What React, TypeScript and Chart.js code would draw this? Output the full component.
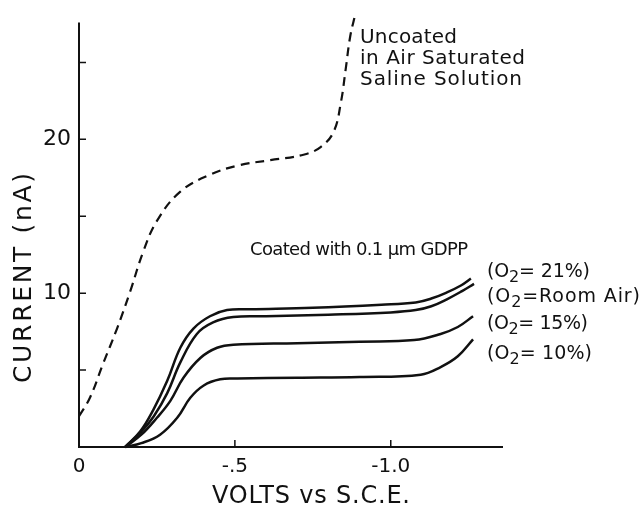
import React, { useEffect, useRef } from "react";
import { Chart, registerables } from "chart.js";

Chart.register(...registerables);

// ---- Data (volts vs S.C.E., current in nA) ----
const uncoatedV = [0, -0.035, -0.077, -0.122, -0.164, -0.206, -0.25, -0.325, -0.42, -0.51, -0.614, -0.72, -0.775, -0.817, -0.84, -0.855, -0.87, -0.887];
const uncoatedI = [2.0, 3.2, 5.4, 7.7, 10.1, 12.7, 14.7, 16.6, 17.7, 18.3, 18.65, 19.0, 19.5, 20.5, 22.4, 24.5, 26.7, 28.2];

const o21V = [-0.148, -0.196, -0.238, -0.283, -0.325, -0.367, -0.42, -0.475, -0.55, -0.75, -0.97, -1.08, -1.13, -1.18, -1.225, -1.257];
const o21I = [0, 1.0, 2.4, 4.3, 6.45, 7.7, 8.5, 8.9, 8.95, 9.05, 9.25, 9.4, 9.65, 10.05, 10.5, 10.95];

const roomV = [-0.148, -0.2, -0.24, -0.283, -0.325, -0.378, -0.43, -0.495, -0.6, -0.8, -1.0, -1.08, -1.13, -1.18, -1.23, -1.267];
const roomI = [0, 1.0, 2.0, 3.5, 5.5, 7.35, 8.1, 8.45, 8.5, 8.6, 8.75, 8.9, 9.15, 9.6, 10.15, 10.6];

const o15V = [-0.148, -0.2, -0.25, -0.293, -0.335, -0.39, -0.443, -0.495, -0.7, -0.9, -1.075, -1.16, -1.215, -1.264];
const o15I = [0, 0.8, 1.9, 3.0, 4.5, 5.8, 6.45, 6.65, 6.75, 6.85, 6.95, 7.35, 7.8, 8.5];

const o10V = [-0.148, -0.2, -0.26, -0.315, -0.357, -0.4, -0.453, -0.508, -0.7, -0.9, -1.096, -1.16, -1.215, -1.264];
const o10I = [0, 0.25, 0.8, 1.9, 3.2, 4.0, 4.4, 4.45, 4.5, 4.55, 4.7, 5.2, 5.9, 7.0];

const xTickValues = [0, -0.5, -1.0];
const xTickLabels = ["0", "-.5", "-1.0"];
const yTickValues = [5, 10, 15, 20, 25];
const yTickLabels = ["", "10", "", "20", ""];

const xMin = -1.36;
const xMax = 0;
const yMin = 0;
const yMax = 28.2;
const yAxisTop = 27.6;

const yTitle = "CURRENT (nA)";
const xTitle = "VOLTS vs S.C.E.";
const uncoatedLabel = ["Uncoated", "in Air Saturated", "Saline Solution"];
const coatedLabel = "Coated with 0.1 \u03BCm GDPP";
const o2Labels = ["= 21%)", "=Room Air)", "= 15%)", "= 10%)"];

const INK = "#111";
const FONT = '"DejaVu Sans", sans-serif';

const toPts = (v: number[], i: number[]) => v.map((x, k) => ({ x, y: i[k] }));

type Seg = { t: string; sub?: boolean };

function drawFit(
  ctx: CanvasRenderingContext2D,
  segs: Seg[],
  x: number,
  y: number,
  target: number,
  size: number
) {
  const subSize = Math.round(size * 0.85);
  const anyCtx = ctx as any;
  anyCtx.letterSpacing = "0px";
  let natural = 0;
  let chars = 0;
  segs.forEach((s) => {
    ctx.font = `${s.sub ? subSize : size}px ${FONT}`;
    natural += ctx.measureText(s.t).width;
    chars += s.t.length;
  });
  const ls = chars > 1 ? (target - natural) / (chars - 1) : 0;
  anyCtx.letterSpacing = `${ls}px`;
  let cx = x;
  segs.forEach((s) => {
    ctx.font = `${s.sub ? subSize : size}px ${FONT}`;
    const yy = s.sub ? y + size * 0.3 : y;
    ctx.fillText(s.t, cx, yy);
    cx += ctx.measureText(s.t).width;
  });
  anyCtx.letterSpacing = "0px";
}

const overlay = {
  id: "overlay",
  afterDraw(chart: any) {
    const ctx: CanvasRenderingContext2D = chart.ctx;
    const xs = chart.scales.x;
    const ys = chart.scales.y;
    ctx.save();
    ctx.strokeStyle = INK;
    ctx.fillStyle = INK;
    const x0 = xs.getPixelForValue(0);
    const y0 = ys.getPixelForValue(0);
    // axes
    ctx.lineWidth = 2;
    ctx.beginPath();
    ctx.moveTo(x0, ys.getPixelForValue(yAxisTop));
    ctx.lineTo(x0, y0);
    ctx.lineTo(xs.getPixelForValue(xMin), y0);
    ctx.stroke();
    // inward ticks
    ctx.lineWidth = 1.5;
    ctx.beginPath();
    yTickValues.forEach((v) => {
      const p = ys.getPixelForValue(v);
      ctx.moveTo(x0, p);
      ctx.lineTo(x0 + 7, p);
    });
    xTickValues
      .filter((v) => v !== 0)
      .forEach((v) => {
        const p = xs.getPixelForValue(v);
        ctx.moveTo(p, y0);
        ctx.lineTo(p, y0 - 7);
      });
    ctx.stroke();

    ctx.textBaseline = "middle";
    ctx.textAlign = "left";
    // annotations
    const ulY = [38, 59, 80];
    const ulW = [97, 165, 162];
    uncoatedLabel.forEach((t, k) => drawFit(ctx, [{ t }], 360, ulY[k], ulW[k], 20));
    drawFit(ctx, [{ t: coatedLabel }], 250, 250, 218, 18);
    const oY = [272, 297, 324, 354];
    const oW = [103, 153, 101, 105];
    o2Labels.forEach((t, k) =>
      drawFit(ctx, [{ t: "(O" }, { t: "2", sub: true }, { t }], 487, oY[k], oW[k], 19)
    );
    // axis titles
    ctx.save();
    ctx.translate(24, 278);
    ctx.rotate(-Math.PI / 2);
    const wY = 210;
    drawFit(ctx, [{ t: yTitle }], -wY / 2, 0, wY, 25);
    ctx.restore();
    const wX = 198;
    drawFit(ctx, [{ t: xTitle }], 311 - wX / 2, 497, wX, 24);
    ctx.restore();
  },
};

export default function App() {
  const ref = useRef<HTMLCanvasElement | null>(null);
  useEffect(() => {
    document.body.style.margin = "0";
    const canvas = ref.current!;
    const line = (data: any, dashed = false) => ({
      data,
      borderColor: INK,
      borderWidth: dashed ? 2.2 : 2.5,
      borderDash: dashed ? [9, 6] : [],
      pointRadius: 0,
      fill: false,
      tension: 0.4,
      clip: false as any,
    });
    const chart = new Chart(canvas, {
      type: "line",
      data: {
        datasets: [
          { label: "Uncoated", ...line(toPts(uncoatedV, uncoatedI), true) },
          { label: "O2 21%", ...line(toPts(o21V, o21I)) },
          { label: "O2 Room Air", ...line(toPts(roomV, roomI)) },
          { label: "O2 15%", ...line(toPts(o15V, o15I)) },
          { label: "O2 10%", ...line(toPts(o10V, o10I)) },
        ],
      },
      options: {
        responsive: false,
        animation: false,
        layout: { padding: { top: 10, right: 139, left: 0, bottom: 0 } },
        plugins: { legend: { display: false }, tooltip: { enabled: false } },
        scales: {
          x: {
            type: "linear",
            reverse: true,
            min: xMin,
            max: xMax,
            afterFit: (s: any) => {
              s.height = 60;
            },
            afterBuildTicks: (s: any) => {
              s.ticks = xTickValues.map((value) => ({ value }));
            },
            ticks: {
              autoSkip: false,
              maxRotation: 0,
              padding: 0,
              color: INK,
              font: { family: FONT, size: 20 },
              callback: (v: any) => {
                const k = xTickValues.findIndex((t) => Math.abs(t - Number(v)) < 1e-9);
                return k >= 0 ? xTickLabels[k] : "";
              },
            },
            grid: { display: false },
            border: { display: false },
          },
          y: {
            type: "linear",
            min: yMin,
            max: yMax,
            afterFit: (s: any) => {
              s.width = 79;
            },
            afterBuildTicks: (s: any) => {
              s.ticks = yTickValues.map((value) => ({ value }));
            },
            ticks: {
              autoSkip: false,
              padding: 0,
              color: INK,
              font: { family: FONT, size: 22 },
              callback: (v: any) => {
                const k = yTickValues.findIndex((t) => Math.abs(t - Number(v)) < 1e-9);
                return k >= 0 ? yTickLabels[k] : "";
              },
            },
            grid: { display: false },
            border: { display: false },
          },
        },
      },
      plugins: [overlay],
    });
    return () => chart.destroy();
  }, []);
  return (
    <div style={{ width: 642, height: 507, background: "#fff" }}>
      <canvas ref={ref} width={642} height={507} style={{ display: "block" }} />
    </div>
  );
}
